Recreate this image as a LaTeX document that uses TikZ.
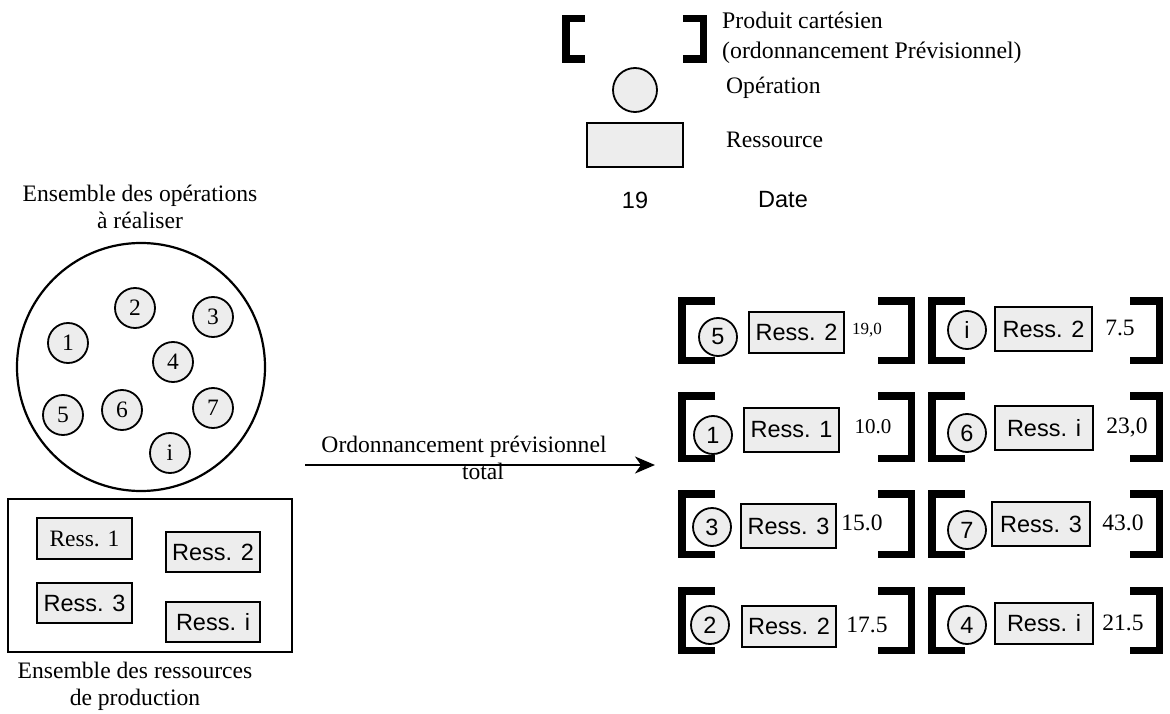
\documentclass[tikz,border=0pt]{standalone}
\usepackage{fontspec}
\setmainfont{Liberation Serif}
\setsansfont{Liberation Sans}
\usetikzlibrary{arrows.meta}
\tikzset{
 txt/.style={font=\fontsize{23.6}{27}\selectfont, inner sep=0pt},
 stxt/.style={font=\sffamily\fontsize{23.5}{27}\selectfont, inner sep=0pt},
 opc/.style={circle, draw, line width=1.8pt, fill=black!7, minimum size=40pt, inner sep=0pt, font=\fontsize{23.5}{27}\selectfont},
 opcs/.style={opc, minimum size=38pt, font=\sffamily\fontsize{23.5}{27}\selectfont},
 resbox/.style={rectangle, draw, line width=1.8pt, fill=black!7, inner sep=0pt, minimum height=43pt, minimum width=96pt, font=\sffamily\fontsize{23.5}{27}\selectfont},
 brk/.style={line width=7.5pt, line cap=butt, line join=miter},
 val/.style={font=\fontsize{23.5}{27}\selectfont, inner sep=0pt},
}
\newcommand\mylb[4]{\draw[brk] (#4,{#2+3.75}) -- ({#1+3.75},{#2+3.75}) -- ({#1+3.75},{#3-3.75}) -- (#4,{#3-3.75});}
\newcommand\myrb[4]{\draw[brk] (#4,{#2+3.75}) -- ({#1-3.75},{#2+3.75}) -- ({#1-3.75},{#3-3.75}) -- (#4,{#3-3.75});}
\begin{document}
\begin{tikzpicture}[x=1pt,y=-1pt]
\useasboundingbox (0,0) rectangle (1170,714);
% legend
\mylb{562}{15}{63}{585}
\myrb{707}{15}{63}{683}
\node[txt, font=\fontsize{23.8}{30}\selectfont, anchor=west, align=left] (lgp) at (722,37.5) {Produit cartésien\\(ordonnancement Prévisionnel)};
\node[opc, minimum size=44pt] (lgc) at (635,90) {};
\node[txt, anchor=west] (lgo) at (726,88) {Opération};
\node[resbox, minimum width=96pt, minimum height=44pt] (lgr) at (635,145) {};
\node[txt, anchor=west] (lgrt) at (726,140) {Ressource};
\node[stxt] (lgn) at (635,200) {19};
\node[stxt, anchor=west] (lgd) at (758,200) {Date};
% left: operations
\node[txt, align=center] (opt) at (140,206.5) {Ensemble des opérations\\à réaliser};
\node[circle, draw, line width=2.2pt, minimum size=248pt, inner sep=0pt] (ops) at (141,367) {};
\node[opc] (o2) at (135,308) {2};
\node[opc] (o3) at (213,317) {3};
\node[opc] (o1) at (68,343) {1};
\node[opc] (o4) at (173,362) {4};
\node[opc] (o5) at (63,415) {5};
\node[opc] (o6) at (122,410) {6};
\node[opc] (o7) at (213,408) {7};
\node[opc] (oi) at (170,453) {i};
% left: resources
\node[draw, line width=2.2pt, minimum width=284pt, minimum height=153pt, inner sep=0pt] (rs) at (150,575.5) {};
\node[resbox, minimum width=95pt, minimum height=41pt, font=\fontsize{23.5}{27}\selectfont] (r1) at (84.5,538.5) {Ress. 1};
\node[resbox, minimum width=94pt, minimum height=40pt] (r2) at (213,552) {Ress. 2};
\node[resbox, minimum width=95pt, minimum height=40pt] (r3) at (84.5,603) {Ress. 3};
\node[resbox, minimum width=94pt, minimum height=40pt] (ri) at (213,622) {Ress. i};
\node[txt, align=center] (rst) at (135,686) {Ensemble des ressources\\de production};
% arrow
\coordinate (as) at (305,465);
\coordinate (ae) at (655,465);
\draw[line width=1.6pt, -{Stealth[length=20pt,width=17pt,inset=6pt]}] (as) -- (ae);
\node[txt, align=center] (al) at (464,458) {Ordonnancement prévisionnel\\\hspace*{38pt}total};
% right grid: brackets
\foreach \ya/\yb in {297/364, 392/462, 490/558, 587/654}{
  \mylb{678}{\ya}{\yb}{715}
  \myrb{915}{\ya}{\yb}{878}
  \mylb{928}{\ya}{\yb}{965}
  \myrb{1163}{\ya}{\yb}{1130}
}
% row 1
\node[opcs] (c11) at (718,337) {5};
\node[resbox, minimum width=95pt, minimum height=41pt] (b11) at (796.5,332.5) {Ress. 2};
\node[val, font=\fontsize{17}{20}\selectfont] (v11) at (867,330) {19,0};
\node[opcs] (c12) at (967,330) {i};
\node[resbox, minimum width=97pt, minimum height=44pt] (b12) at (1043.5,329) {Ress. 2};
\node[val] (v12) at (1120,328) {7.5};
% row 2
\node[opcs] (c21) at (713,435) {1};
\node[resbox, minimum width=95pt, minimum height=44pt] (b21) at (791.5,430) {Ress. 1};
\node[val, font=\fontsize{21}{24}\selectfont] (v21) at (873,427) {10.0};
\node[opcs] (c22) at (967,433) {6};
\node[resbox, minimum width=98pt, minimum height=44pt] (b22) at (1044,428) {Ress. i};
\node[val] (v22) at (1127,427) {23,0};
% row 3
\node[opcs] (c31) at (712,527) {3};
\node[resbox, minimum width=95pt, minimum height=44pt] (b31) at (788.5,526) {Ress. 3};
\node[val] (v31) at (862,523) {15.0};
\node[opcs] (c32) at (967,530) {7};
\node[resbox, minimum width=98pt, minimum height=44pt] (b32) at (1041,524) {Ress. 3};
\node[val] (v32) at (1123,523) {43.0};
% row 4
\node[opcs] (c41) at (710,625) {2};
\node[resbox, minimum width=94pt, minimum height=41pt] (b41) at (789,626.5) {Ress. 2};
\node[val] (v41) at (867,625) {17.5};
\node[opcs] (c42) at (967,625) {4};
\node[resbox, minimum width=98pt, minimum height=41pt] (b42) at (1044,623.5) {Ress. i};
\node[val] (v42) at (1123,623) {21.5};
\end{tikzpicture}
\end{document}
